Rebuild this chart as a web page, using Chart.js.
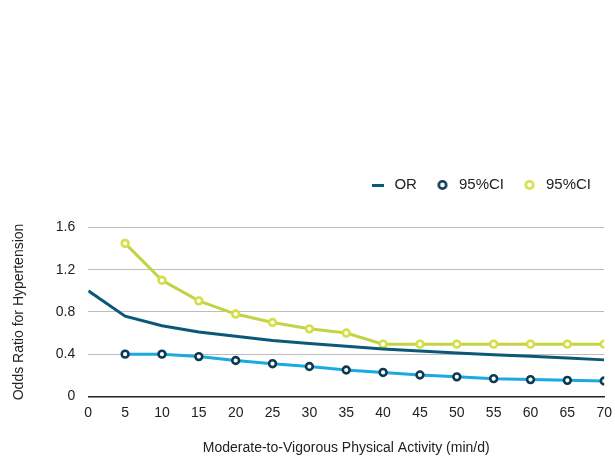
<!DOCTYPE html>
<html>
<head>
<meta charset="utf-8">
<script src="https://cdn.jsdelivr.net/npm/chart.js@4/dist/chart.umd.min.js"></script>
<style>
  html, body { margin: 0; padding: 0; background: #fff; }
  #wrap { width: 615px; height: 457px; }
</style>
</head>
<body>
<div id="wrap"><canvas id="orChart" width="615" height="457"></canvas></div>
<script>
// minutes of MVPA per day
const minutes = [0, 5, 10, 15, 20, 25, 30, 35, 40, 45, 50, 55, 60, 65, 70];
const ciMinutes = [5, 10, 15, 20, 25, 30, 35, 40, 45, 50, 55, 60, 65, 70];

const oddsRatio = [1.0, 0.76, 0.67, 0.61, 0.57, 0.53, 0.50, 0.475, 0.45, 0.43, 0.41, 0.395, 0.38, 0.363, 0.346];
const lowerCI = [0.40, 0.40, 0.377, 0.34, 0.31, 0.283, 0.25, 0.227, 0.203, 0.185, 0.168, 0.159, 0.152, 0.146];
const upperCI = [1.45, 1.10, 0.905, 0.78, 0.70, 0.64, 0.60, 0.495, 0.495, 0.495, 0.495, 0.495, 0.495, 0.495];

const yTicks = [0, 0.4, 0.8, 1.2, 1.6];

const toPoints = (xs, ys) => xs.map((x, i) => ({ x: x, y: ys[i] }));

const font = { family: '"Liberation Sans", Arial, sans-serif', size: 14 };
const legendFont = { family: '"Liberation Sans", Arial, sans-serif', size: 15 };

const OR_COLOR = '#0b5878';
const LOW_LINE = '#1ba9e1';
const LOW_MARK = '#0d3a52';
const UP_LINE = '#c3d344';
const UP_MARK = '#d4df45';

// small canvases used as legend markers
function dashMarker(color) {
    const c = document.createElement('canvas');
    c.width = 12; c.height = 3;
    const g = c.getContext('2d');
    g.fillStyle = color;
    g.fillRect(0, 0, 12, 3);
    return c;
}
function ringMarker(color) {
    const c = document.createElement('canvas');
    c.width = 12; c.height = 12;
    const g = c.getContext('2d');
    g.fillStyle = '#fff';
    g.strokeStyle = color;
    g.lineWidth = 2.6;
    g.beginPath();
    g.arc(6, 6, 3.7, 0, Math.PI * 2);
    g.fill();
    g.stroke();
    return c;
}
const legendMarkers = [dashMarker(OR_COLOR), ringMarker(LOW_MARK), ringMarker(UP_MARK)];

// extra room between legend and plot
const legendGap = {
    id: 'legendGap',
    beforeInit(chart) {
        const fit = chart.legend.fit;
        chart.legend.fit = function () {
            fit.bind(chart.legend)();
            this.height += 25;
        };
    }
};

new Chart(document.getElementById('orChart').getContext('2d'), {
    type: 'line',
    data: {
        datasets: [
            {
                label: 'OR',
                data: toPoints(minutes, oddsRatio),
                borderColor: OR_COLOR,
                borderWidth: 3,
                pointRadius: 0,
                pointHoverRadius: 0,
                tension: 0
            },
            {
                label: '95%CI',
                data: toPoints(ciMinutes, lowerCI),
                borderColor: LOW_LINE,
                borderWidth: 3,
                pointRadius: 3.4,
                pointBorderWidth: 2.6,
                pointBorderColor: LOW_MARK,
                pointBackgroundColor: '#ffffff',
                tension: 0
            },
            {
                label: '95%CI',
                data: toPoints(ciMinutes, upperCI),
                borderColor: UP_LINE,
                borderWidth: 3,
                pointRadius: 3.4,
                pointBorderWidth: 2.6,
                pointBorderColor: UP_MARK,
                pointBackgroundColor: '#ffffff',
                tension: 0
            }
        ]
    },
    plugins: [legendGap],
    options: {
        responsive: false,
        animation: false,
        layout: { padding: { top: 161, right: 7.5, left: 11, bottom: 0 } },
        plugins: {
            legend: {
                position: 'top',
                align: 'end',
                labels: {
                    usePointStyle: true,
                    pointStyleWidth: 18,
                    boxHeight: 10,
                    padding: 16.5,
                    color: '#222',
                    font: legendFont,
                    generateLabels: chart => {
                        const items = Chart.defaults.plugins.legend.labels.generateLabels(chart);
                        items.forEach((it, i) => { it.pointStyle = legendMarkers[i]; });
                        return items;
                    }
                }
            },
            tooltip: { enabled: false }
        },
        scales: {
            x: {
                type: 'linear',
                min: 0,
                max: 70,
                border: { display: true, color: '#222', width: 1.5 },
                grid: { display: false, drawTicks: true, tickLength: 5 },
                ticks: { stepSize: 5, color: '#222', font: font, padding: 3, maxRotation: 0 },
                title: {
                    display: true,
                    text: 'Moderate-to-Vigorous Physical Activity (min/d)',
                    color: '#222',
                    font: font,
                    padding: { top: 16, bottom: 0 }
                }
            },
            y: {
                min: 0,
                max: 1.6,
                afterBuildTicks: axis => { axis.ticks = yTicks.map(v => ({ value: v })); },
                border: { display: false },
                grid: { color: '#bdbdbd', lineWidth: 1, drawTicks: false },
                ticks: {
                    color: '#222',
                    font: font,
                    padding: 13,
                    callback: v => v === 0 ? '0' : v.toFixed(1)
                },
                title: {
                    display: true,
                    text: 'Odds Ratio for Hypertension',
                    color: '#222',
                    font: font,
                    padding: { top: 0, bottom: 15 }
                }
            }
        }
    }
});
</script>
</body>
</html>
